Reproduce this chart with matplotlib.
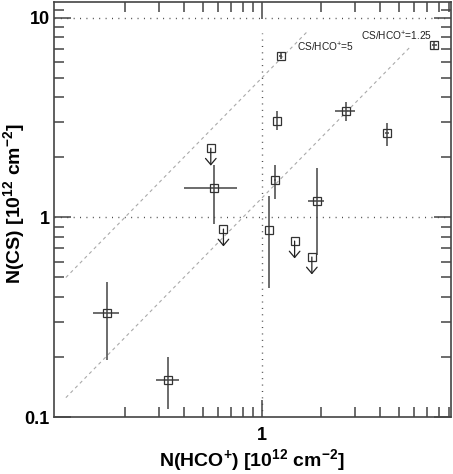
import numpy as np
import matplotlib
matplotlib.use("Agg")
import matplotlib.pyplot as plt
from matplotlib import transforms

plt.rcParams["font.family"] = ["Liberation Sans", "DejaVu Sans"]
plt.rcParams["mathtext.fontset"] = "custom"
plt.rcParams["mathtext.rm"] = "Liberation Sans"
plt.rcParams["mathtext.bf"] = "Liberation Sans:bold"

# detections: N(HCO+), N(CS) with error ranges (units of 1e12 cm^-2)
hco = [0.162, 0.333, 0.573, 1.09, 1.17, 1.25, 1.20, 1.91, 2.69, 4.36, 7.60]
cs = [0.332, 0.154, 1.41, 0.864, 1.54, 6.43, 3.05, 1.21, 3.40, 2.65, 7.33]
hco_lo = [0.137, 0.287, 0.401, 1.09, 1.155, 1.23, 1.20, 1.72, 2.37, 4.25, 7.35]
hco_hi = [0.186, 0.377, 0.746, 1.09, 1.185, 1.27, 1.20, 2.08, 2.99, 4.45, 7.85]
cs_lo = [0.193, 0.110, 0.923, 0.445, 1.23, 6.20, 2.73, 0.646, 3.03, 2.29, 6.99]
cs_hi = [0.475, 0.199, 1.82, 1.278, 1.84, 6.70, 3.40, 1.77, 3.79, 2.97, 7.68]

# upper limits on N(CS)
lim_hco = [0.549, 0.637, 1.47, 1.80]
lim_cs = [2.22, 0.874, 0.761, 0.633]

# abundance ratio lines
ratios = [5.0, 1.25]
ratio_xend = [1.7, 5.7]
ratio_text = [r"CS/HCO$^{+}$=5", r"CS/HCO$^{+}$=1.25"]
ratio_text_xy = [(1.51, 6.75), (3.21, 7.65)]

fig = plt.figure(figsize=(4.53, 4.74), dpi=100)
ax = fig.add_axes([54 / 453, 57 / 474, 396.7 / 453, 415 / 474])
ax.set_xscale("log")
ax.set_yscale("log")
ax.set_xlim(0.087, 9.2)
ax.set_ylim(0.1, 12.0)

dot = (0, (0.7, 3.9))
ax.axhline(1, color="#444444", lw=1, ls=dot, zorder=1)
ax.axhline(10, color="#444444", lw=1, ls=dot, zorder=1)
ax.plot([1, 1], [0.1, 8.4], color="#444444", lw=1, ls=dot, zorder=1)

for r, xe in zip(ratios, ratio_xend):
    xs = np.array([0.1, xe])
    ax.plot(xs, r * xs, color="#aaaaaa", lw=0.8, ls=(0, (3, 3)), zorder=1)
for t, (tx, ty) in zip(ratio_text, ratio_text_xy):
    ax.text(tx, ty, t, fontsize=7.3, va="baseline", ha="left", color="#222222")

x = np.array(hco)
y = np.array(cs)
xerr = [x - np.array(hco_lo), np.array(hco_hi) - x]
yerr = [y - np.array(cs_lo), np.array(cs_hi) - y]
ax.errorbar(x, y, xerr=xerr, yerr=yerr, fmt="s", ms=5.3, mfc="none",
            mec="#333333", mew=0.9, ecolor="#444444", elinewidth=1.1,
            capsize=0, zorder=3)

ax.plot(lim_hco, lim_cs, "s", ms=5.3, mfc="none", mec="#333333", mew=0.9,
        zorder=3)
tip = transforms.offset_copy(ax.transData, fig=fig, y=-12.5, units="points")
for lx, ly in zip(lim_hco, lim_cs):
    ax.annotate("", xy=(lx, ly), xycoords=tip, xytext=(lx, ly),
                textcoords="data",
                arrowprops=dict(arrowstyle="->,head_length=0.45,head_width=0.38",
                                color="#222222", lw=0.9, shrinkA=0, shrinkB=0,
                                mutation_scale=10))

# ticks
ax.set_xticks([1], labels=["1"])
ax.set_xticks([0.2, 0.3, 0.4, 0.5, 0.6, 0.7, 0.8, 0.9,
               2, 3, 4, 5, 6, 7, 8, 9], minor=True)
ax.set_yticks([0.1, 1, 10], labels=["0.1", "1", "10"])
ax.set_yticks([0.2, 0.3, 0.4, 0.5, 0.6, 0.7, 0.8, 0.9,
               2, 3, 4, 5, 6, 7, 8, 9, 11], minor=True)
ax.xaxis.set_minor_formatter(plt.NullFormatter())
ax.yaxis.set_minor_formatter(plt.NullFormatter())
ax.tick_params(which="both", direction="in", top=True, right=True,
               color="#444444", width=1.1)
ax.tick_params(which="major", length=12)
ax.tick_params(which="minor", length=7.5)
ax.tick_params(axis="x", which="major", labelsize=13, pad=7)
ax.tick_params(axis="y", which="major", labelsize=13, pad=3)
for lab in ax.get_xticklabels() + ax.get_yticklabels():
    lab.set_fontweight("bold")
for s in ax.spines.values():
    s.set_color("#444444")
    s.set_linewidth(1.2)

ax.set_xlabel(r"N(HCO$\mathbf{^{+}}$) [10$\mathbf{^{12}}$ cm$\mathbf{^{-2}}$]",
              fontsize=14, fontweight="bold")
ax.set_ylabel(r"N(CS) [10$\mathbf{^{12}}$ cm$\mathbf{^{-2}}$]",
              fontsize=14, fontweight="bold")
ax.xaxis.set_label_coords(0.5, -0.072)
ax.yaxis.set_label_coords(-0.068, 0.515)

fig.savefig("out.png", dpi=100)
